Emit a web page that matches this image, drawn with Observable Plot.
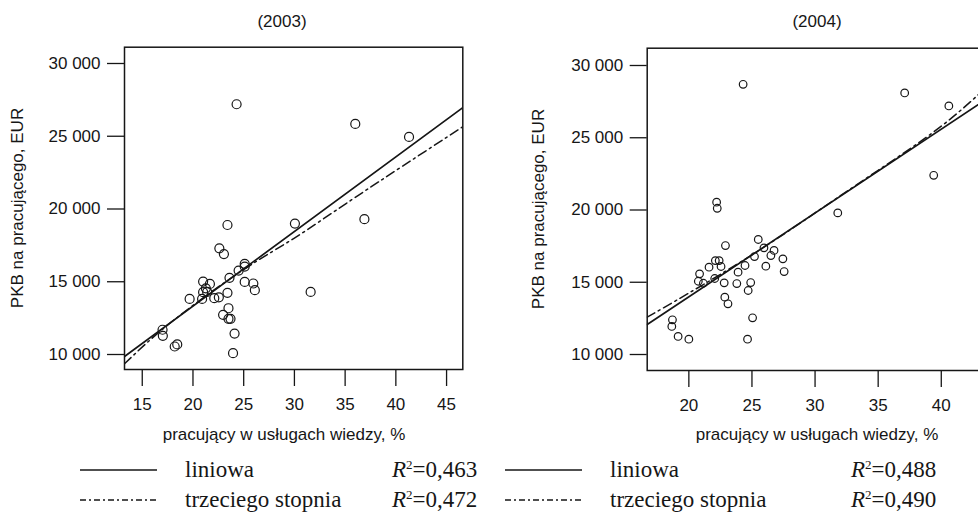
<!DOCTYPE html>
<html><head><meta charset="utf-8">
<script src="https://cdn.jsdelivr.net/npm/d3@7"></script>
<script src="https://cdn.jsdelivr.net/npm/@observablehq/plot@0.6"></script>
<style>
html,body{margin:0;padding:0;background:#fff;width:978px;height:516px;overflow:hidden;}
#wrap{position:relative;width:978px;height:516px;overflow:hidden;}
</style></head>
<body><div id="wrap"></div>
<script>
// ---- data ----
const x2003 = [24.3, 36.0, 41.3, 23.4, 30.05, 36.9, 22.6, 23.05, 25.1, 25.1, 24.5, 23.6, 25.1, 25.95, 26.1, 31.6, 21.0, 21.67, 21.27, 21.0, 21.4, 19.67, 20.9, 22.1, 22.55, 23.4, 23.5, 22.97, 23.7, 23.5, 24.1, 23.95, 17.0, 17.03, 18.2, 18.45];
const y2003 = [27200, 25850, 24950, 18900, 19000, 19300, 17300, 16900, 16230, 16040, 15770, 15270, 14990, 14880, 14420, 14300, 15010, 14850, 14550, 14280, 14300, 13820, 13820, 13870, 13930, 14240, 13180, 12730, 12450, 12450, 11440, 10090, 11700, 11280, 10550, 10690];
const x2004 = [24.3, 37.1, 40.6, 39.4, 31.8, 22.2, 22.25, 22.9, 25.5, 25.95, 26.75, 25.2, 26.5, 27.45, 26.1, 27.55, 24.45, 23.9, 22.1, 22.4, 22.55, 21.6, 20.85, 20.75, 21.15, 22.05, 22.8, 23.8, 24.9, 24.7, 22.85, 23.1, 25.05, 18.7, 18.65, 19.15, 20.0, 24.65];
const y2004 = [28700, 28100, 27200, 22400, 19800, 20540, 20120, 17540, 17960, 17380, 17200, 16780, 16850, 16620, 16110, 15740, 16160, 15700, 16500, 16500, 16090, 16040, 15580, 15070, 14930, 15260, 14960, 14910, 14980, 14430, 13970, 13510, 12540, 12400, 11940, 11250, 11060, 11060];
// fitted curves, values
const lin2003X = [13.25, 46.6];
const lin2003Y = [9863, 26966];
const cub2003X = [13.25, 18, 25, 30, 36, 46.6];
const cub2003Y = [9360, 12300, 15840, 18000, 20800, 25650];
const lin2004X = [16.7, 43.9];
const lin2004Y = [12076, 27860];
const cub2004X = [16.7, 20, 25, 30, 35, 40, 43.9];
const cub2004Y = [12580, 14250, 16893, 19794, 22750, 25800, 28760];
// ticks and labels
const yTicks = [10000, 15000, 20000, 25000, 30000];
const xTicks2003 = [15, 20, 25, 30, 35, 40, 45];
const xTicks2004 = [20, 25, 30, 35, 40];
const titles = ["(2003)", "(2004)"];
const yTitle = "PKB na pracującego, EUR";
const xTitle = "pracujący w usługach wiedzy, %";
const legendNames = ["liniowa", "trzeciego stopnia"];
const r2_2003 = ["0,463", "0,472"];
const r2_2004 = ["0,488", "0,490"];

const fmt = d => d3.format(",")(d).replace(/,/g, " ");
const ink = "#161616";
const sans = "'Liberation Sans', Arial, sans-serif";
const serif = "'Liberation Serif', 'Times New Roman', serif";

function panel(o) {
  const pts = o.xs.map((x, i) => ({x, y: o.ys[i]}));
  const lin = o.linX.map((x, i) => ({x, y: o.linY[i]}));
  const cub = o.cubX.map((x, i) => ({x, y: o.cubY[i]}));
  return Plot.plot({
    width: o.width, height: o.height,
    marginLeft: o.mL, marginRight: o.mR, marginTop: o.mT, marginBottom: o.mB,
    x: {domain: o.xDomain}, y: {domain: o.yDomain},
    style: {fontFamily: sans, fontSize: "17px", color: ink, background: "transparent", overflow: "visible"},
    marks: [
      Plot.axisX({ticks: o.xTicks, tickSize: 17, tickPadding: 11, label: null, tickFormat: d => String(d), strokeWidth: 1.3}),
      Plot.axisY({ticks: yTicks, tickSize: 17, tickPadding: 7, label: null, tickFormat: fmt, strokeWidth: 1.3}),
      Plot.frame({stroke: ink, strokeWidth: 1.5}),
      Plot.line(lin, {x: "x", y: "y", stroke: ink, strokeWidth: 1.7, clip: true}),
      Plot.line(cub, {x: "x", y: "y", stroke: ink, strokeWidth: 1.5, strokeDasharray: "9,4,2,4", curve: "natural", clip: true}),
      Plot.dot(pts, {x: "x", y: "y", r: o.r, stroke: ink, strokeWidth: 1.2, fill: "none"})
    ]
  });
}

const wrap = document.getElementById("wrap");
function place(el, left, top) {
  el.style.position = "absolute"; el.style.left = left + "px"; el.style.top = top + "px";
  wrap.appendChild(el);
}
const p1 = panel({xs: x2003, ys: y2003, linX: lin2003X, linY: lin2003Y, cubX: cub2003X, cubY: cub2003Y,
  xDomain: [13.25, 46.6], yDomain: [8969, 31120], xTicks: xTicks2003,
  width: 490, height: 420, mL: 124, mR: 27.7, mT: 46.7, mB: 51, r: 4.5});
place(p1, 0, 0);
const p2 = panel({xs: x2004, ys: y2004, linX: lin2004X, linY: lin2004Y, cubX: cub2004X, cubY: cub2004Y,
  xDomain: [16.7, 43.9], yDomain: [8893, 31197], xTicks: xTicks2004,
  width: 510, height: 420, mL: 146.7, mR: 20, mT: 47.7, mB: 50, r: 3.8});
place(p2, 500, 0);

// overlay for titles and legend
const ov = d3.create("svg").attr("width", 978).attr("height", 516)
  .style("position", "absolute").style("left", "0px").style("top", "0px").style("pointer-events", "none");
wrap.appendChild(ov.node());
function t(str, x, y, rot) {
  const e = ov.append("text").attr("x", x).attr("y", y).attr("text-anchor", "middle").attr("dy", "0.35em")
    .attr("font-family", sans).attr("font-size", 17).attr("fill", ink).text(str);
  if (rot) e.attr("transform", `rotate(-90 ${x} ${y})`);
}
t(titles[0], 282, 21);
t(titles[1], 817, 21);
t(yTitle, 17, 208, true);
t(yTitle, 538, 209, true);
t(xTitle, 284, 434);
t(xTitle, 817, 434);

const rows = [470, 500];
const dashes = [null, "6,3,2,3"];
function legendBlock(x0, lineW, textX, rX, r2) {
  rows.forEach((y, i) => {
    const base = y + 7;
    ov.append("line").attr("x1", x0).attr("x2", x0 + lineW).attr("y1", y).attr("y2", y)
      .attr("stroke", ink).attr("stroke-width", 1.5).attr("stroke-dasharray", dashes[i]);
    ov.append("text").attr("x", textX).attr("y", base)
      .attr("font-family", serif).attr("font-size", 23).attr("fill", ink).text(legendNames[i]);
    const r = ov.append("text").attr("x", rX).attr("y", base)
      .attr("font-family", serif).attr("font-size", 23).attr("fill", ink);
    r.append("tspan").attr("font-style", "italic").text("R");
    r.append("tspan").attr("font-size", 13).attr("dy", -8).text("2");
    r.append("tspan").attr("dy", 8).text("=" + r2[i]);
  });
}
legendBlock(80, 77, 185, 392, r2_2003);
legendBlock(505, 77, 610, 851, r2_2004);
</script>
</body></html>
